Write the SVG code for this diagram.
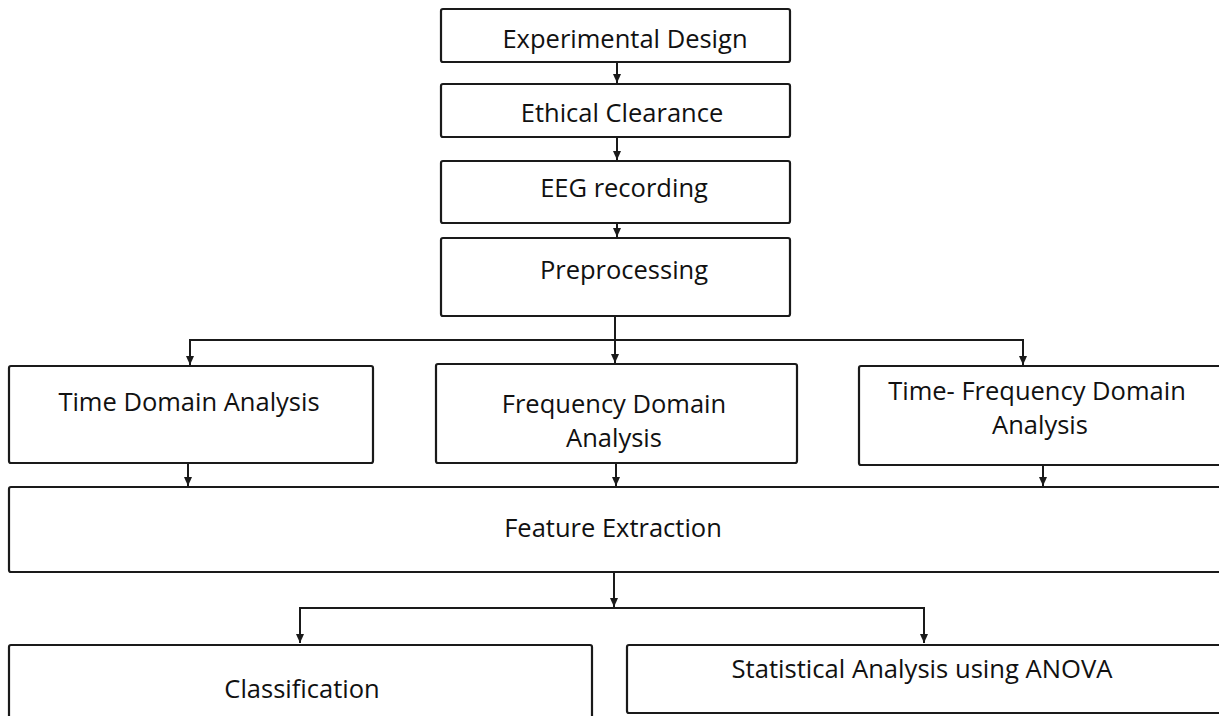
<svg xmlns="http://www.w3.org/2000/svg" width="1219" height="716" viewBox="0 0 1219 716">
<style>
.box{fill:#fff;stroke:#1a1a1a;stroke-width:2.2}
.lbl{font-family:"Open Sans","Liberation Sans",sans-serif;font-size:25.5px;fill:#111;text-anchor:middle}
.con{fill:none;stroke:#1a1a1a;stroke-width:2}
</style>
<defs>
<marker id="ah" markerWidth="10" markerHeight="10" refX="9" refY="5" orient="auto" markerUnits="userSpaceOnUse">
<path d="M0,1 L9,5 L0,9 Z" fill="#1a1a1a"/>
</marker>
</defs>
<rect width="1219" height="716" fill="#fff"/>
<g id="connectors">
<line class="con" x1="617" y1="62" x2="617" y2="83" marker-end="url(#ah)"/>
<line class="con" x1="617" y1="137" x2="617" y2="160" marker-end="url(#ah)"/>
<line class="con" x1="617" y1="223" x2="617" y2="237" marker-end="url(#ah)"/>
<line class="con" x1="615" y1="316" x2="615" y2="363" marker-end="url(#ah)"/>
<path class="con" d="M615,340 H190 V365" marker-end="url(#ah)"/>
<path class="con" d="M615,340 H1023 V365" marker-end="url(#ah)"/>
<line class="con" x1="188" y1="463" x2="188" y2="486" marker-end="url(#ah)"/>
<line class="con" x1="616" y1="463" x2="616" y2="486" marker-end="url(#ah)"/>
<line class="con" x1="1043" y1="465" x2="1043" y2="486" marker-end="url(#ah)"/>
<line class="con" x1="614" y1="572" x2="614" y2="607" marker-end="url(#ah)"/>
<path class="con" d="M614,608 H300 V643" marker-end="url(#ah)"/>
<path class="con" d="M614,608 H924 V643" marker-end="url(#ah)"/>
</g>
<g id="experimental-design">
<rect class="box" x="441" y="9" width="349" height="53" rx="2"/>
<text class="lbl" x="625" y="48">Experimental Design</text>
</g>
<g id="ethical-clearance">
<rect class="box" x="441" y="84" width="349" height="53" rx="2"/>
<text class="lbl" x="622" y="122">Ethical Clearance</text>
</g>
<g id="eeg-recording">
<rect class="box" x="441" y="161" width="349" height="62" rx="2"/>
<text class="lbl" x="624" y="197">EEG recording</text>
</g>
<g id="preprocessing">
<rect class="box" x="441" y="238" width="349" height="78" rx="2"/>
<text class="lbl" x="624" y="279">Preprocessing</text>
</g>
<g id="time-domain">
<rect class="box" x="9" y="366" width="364" height="97" rx="2"/>
<text class="lbl" x="189" y="411">Time Domain Analysis</text>
</g>
<g id="frequency-domain">
<rect class="box" x="436" y="364" width="361" height="99" rx="2"/>
<text class="lbl" x="614" y="413">Frequency Domain</text>
<text class="lbl" x="614" y="447">Analysis</text>
</g>
<g id="time-frequency-domain">
<rect class="box" x="859" y="366" width="370" height="99" rx="2"/>
<text class="lbl" x="1037" y="400">Time- Frequency Domain</text>
<text class="lbl" x="1040" y="434">Analysis</text>
</g>
<g id="feature-extraction">
<rect class="box" x="9" y="487" width="1220" height="85" rx="2"/>
<text class="lbl" x="613" y="537">Feature Extraction</text>
</g>
<g id="classification">
<rect class="box" x="9" y="645" width="583" height="80" rx="2"/>
<text class="lbl" x="302" y="698">Classification</text>
</g>
<g id="statistical-analysis">
<rect class="box" x="627" y="645" width="600" height="68" rx="2"/>
<text class="lbl" x="922" y="678" textLength="381" lengthAdjust="spacingAndGlyphs">Statistical Analysis using ANOVA</text>
</g>
</svg>
